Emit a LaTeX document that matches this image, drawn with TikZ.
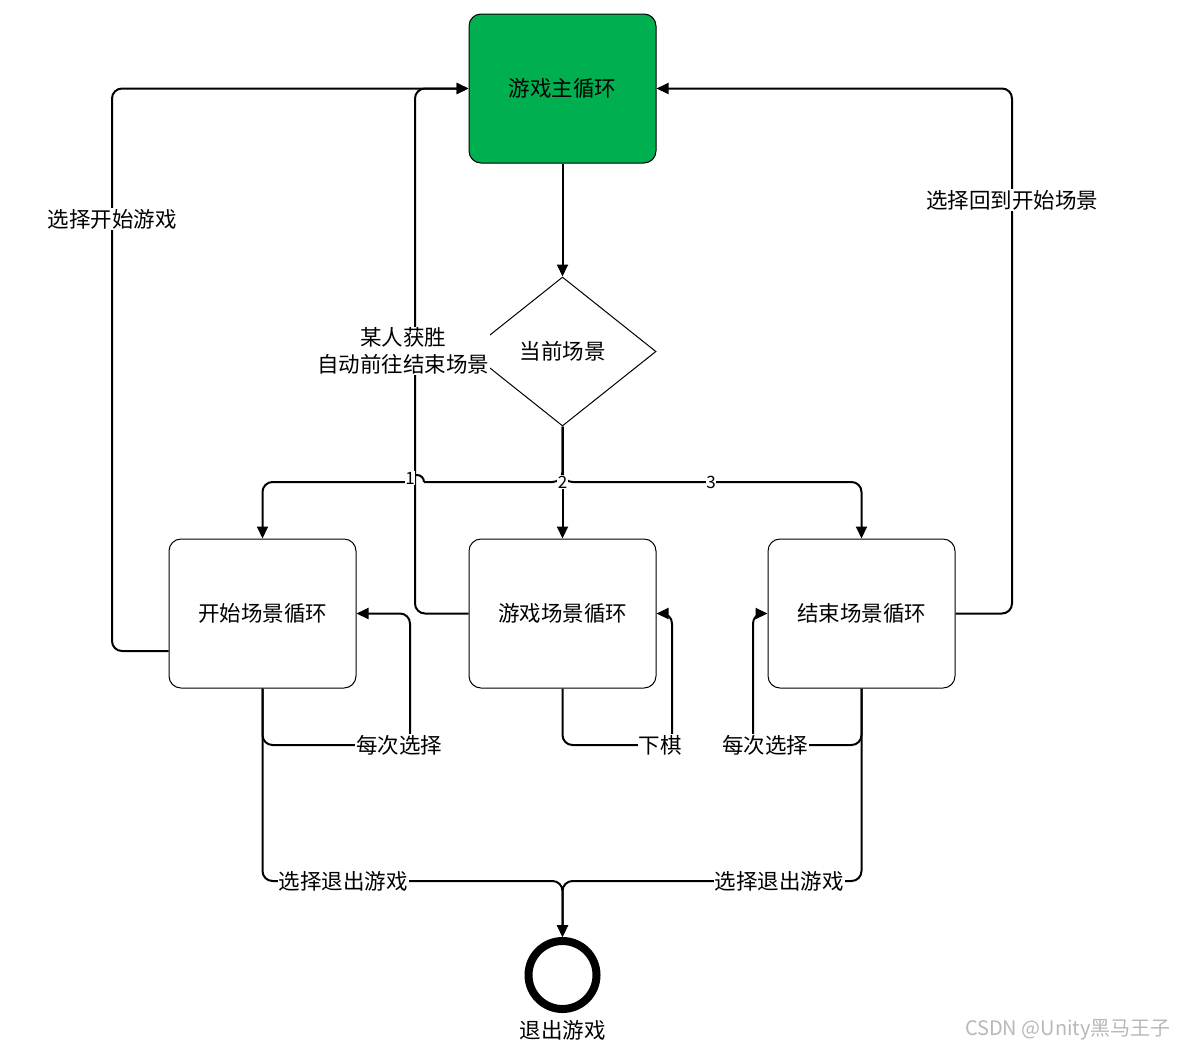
\documentclass[tikz,border=0pt]{standalone}
\usepackage{fontspec}
\setmainfont{Noto Sans CJK SC}
\usetikzlibrary{arrows.meta,shapes.geometric}
\begin{document}
\begin{tikzpicture}[x=1pt,y=-1pt,
  box/.style={draw, line width=1pt, rounded corners=12pt, minimum width=187pt, minimum height=149pt, inner sep=0pt, font=\fontsize{21.5}{26}\selectfont},
  conn/.style={draw, line width=2pt, rounded corners=10pt, -{Triangle[length=12pt,width=11pt]}},
  plain/.style={draw, line width=2pt, rounded corners=10pt},
  lbl/.style={fill=white, inner sep=1pt, font=\fontsize{21.5}{27}\selectfont},
  num/.style={fill=white, inner sep=0.5pt, font=\fontsize{17}{19}\selectfont}]
\useasboundingbox (0,0) rectangle (1185,1050);
\definecolor{mygreen}{RGB}{0,176,80}
% nodes
\node[box, fill=mygreen] (main) at (562.5,88.5) {游戏主循环};
\node[draw, diamond, line width=1pt, minimum width=187pt, minimum height=149pt, inner sep=0pt, font=\fontsize{21.5}{26}\selectfont] (dia) at (562.5,351.5) {当前场景};
\node[box] (start) at (262.5,613.5) {开始场景循环};
\node[box] (game) at (562.5,613.5) {游戏场景循环};
\node[box] (end) at (861.5,613.5) {结束场景循环};
\node[draw, circle, line width=8pt, minimum size=68pt, inner sep=0pt] (exit) at (562.5,975) {};
\node[font=\fontsize{21.5}{26}\selectfont] (exitlbl) at (562.5,1030) {退出游戏};
% main to diamond
\draw[conn] (main.south) -- (dia.north);
% diamond branches
\coordinate (hopa) at (424,482);
\coordinate (hopb) at (410,482);
\draw[plain] (dia.south) -- (562.5,482) -- (hopa);
\draw[line width=2pt] (hopa) arc[start angle=0,end angle=-180,radius=7];
\draw[conn] (hopb) -| (start.north);
\draw[conn] (dia.south) -- (game.north);
\draw[conn] (dia.south) -- (562.5,482) -| (end.north);
% back to main loop
\draw[conn] (game.west) -| (415,88.5) -- (main.west);
\draw[conn] ([yshift=-37.5pt]start.west) -- (112,651) -- (112,88.5) -- (main.west);
\draw[conn] (end.east) -| (1012,88.5) -- (main.east);
% self loops
\draw[conn] (start.south) |- (410,745) -- (410,613.5) -- (start.east);
\draw[conn] (game.south) |- (672,745) -- (672,613.5) -- (game.east);
\draw[conn] (end.south) |- (753,745) -- (753,613.5) -- (end.west);
% exits
\draw[conn] (start.south) -- (262.5,881) -- (562.5,881) -- (exit.north);
\draw[conn] (end.south) -- (861.5,881) -- (562.5,881) -- (exit.north);
% labels
\node[num] (l1) at (410,478) {1};
\node[num] (l2) at (562.5,482) {2};
\node[num] (l3) at (711,482) {3};
\node[lbl, align=center] (lwin) at (403,351) {某人获胜\\自动前往结束场景};
\node[lbl] (lstartgame) at (112,219) {选择开始游戏};
\node[lbl] (lbackstart) at (1012,200) {选择回到开始场景};
\node[lbl] (lsel1) at (399,745) {每次选择};
\node[lbl] (lmove) at (660,745) {下棋};
\node[lbl] (lsel2) at (765,745) {每次选择};
\node[lbl] (lquit1) at (343,881) {选择退出游戏};
\node[lbl] (lquit2) at (779,881) {选择退出游戏};
\node[text=black!28, font=\fontsize{20}{22}\selectfont] (wm) at (1068,1030) {CSDN @Unity黑马王子};
\end{tikzpicture}
\end{document}
